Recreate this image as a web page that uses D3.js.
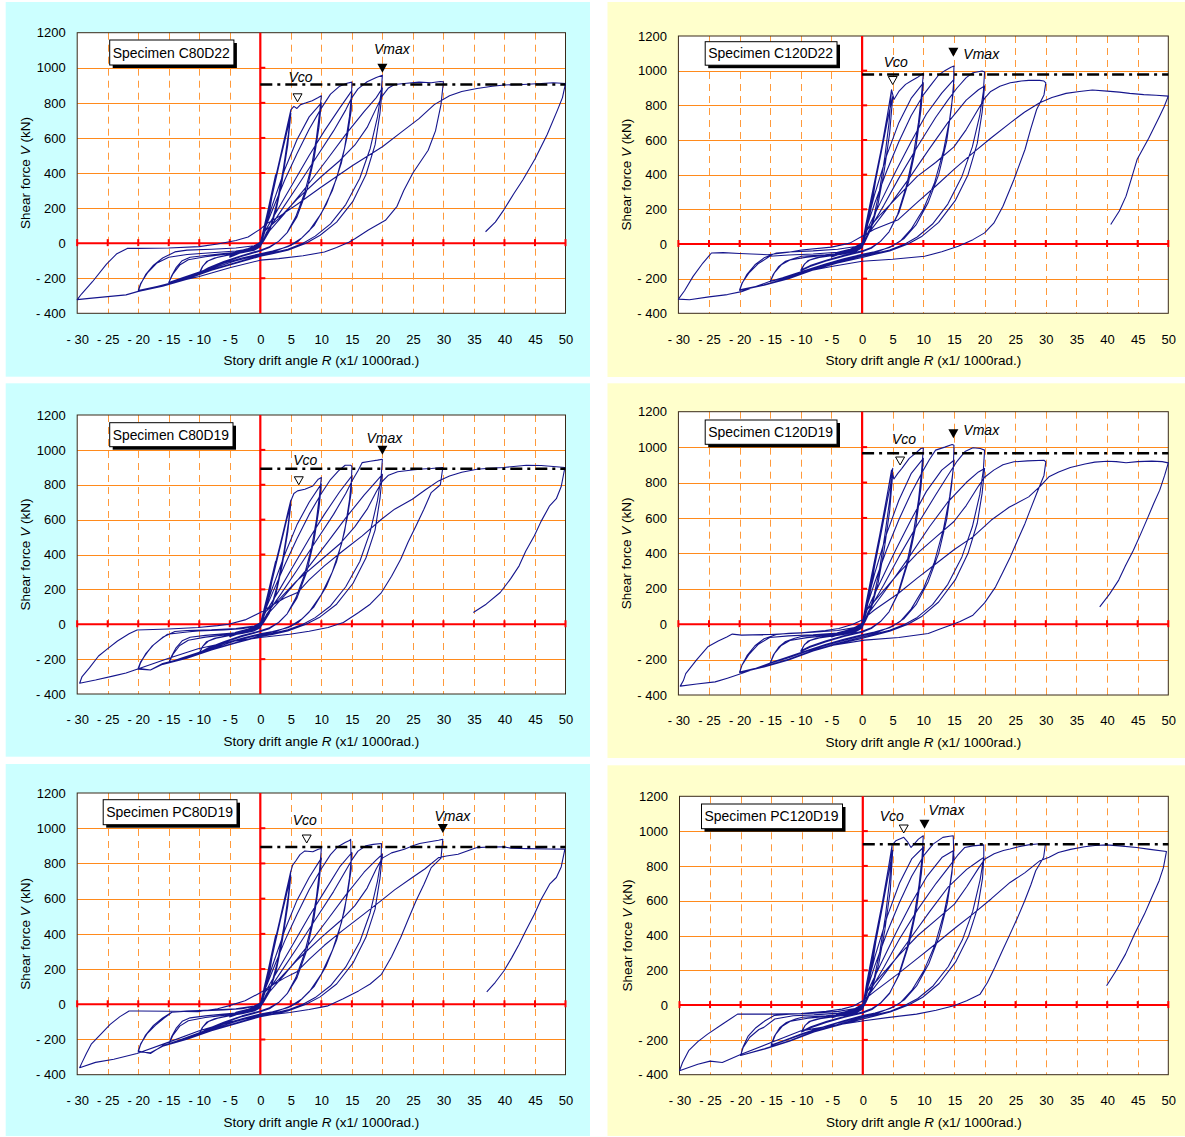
<!DOCTYPE html>
<html><head><meta charset="utf-8">
<script src="https://cdnjs.cloudflare.com/ajax/libs/d3/7.8.5/d3.min.js"></script>
<style>body{margin:0;background:#fff}svg{display:block}</style>
</head><body>
<svg id="c" width="1185" height="1137"></svg>
<script>
// ---------------- data ----------------
const xTicks = [-30,-25,-20,-15,-10,-5,0,5,10,15,20,25,30,35,40,45,50];
const yTicks = [-400,-200,0,200,400,600,800,1000,1200];
const specimens = ["C80D22","C120D22","C80D19","C120D19","PC80D19","PC120D19"];
const referenceShear = [905,978,892,965,893,924];          // dash-dot level (kN)
const vcoPoints  = [[6.1,806],[5.0,920],[6.3,800],[6.2,899],[7.6,916],[6.7,989]];
const vmaxPoints = [[20,971],[14.9,1080],[20,972],[14.9,1050],[29.9,973],[10.1,1014]];

const curveC80D22 = [
[0,0],[1.2,180],[2.5,390],[1.6,200],[0.6,50],[0,0],[-1.5,-25],[-2.5,-40],[-1.2,-20],[0,5],
[1,140],[2.2,320],[3.5,520],[4.5,680],[5,760],
[4.6,620],[3.8,430],[2.8,240],[1.8,110],[0.8,30],[0,-10],[-2,-35],[-4,-60],[-5,-75],
[-4,-50],[-2,-30],[0,-5],
[0.8,100],[2,280],[3.3,480],[4.4,640],[5,740],
[4.5,560],[3.6,360],[2.6,190],[1.5,70],[0.5,10],[0,-15],[-2.5,-45],[-5,-80],
[-4,-55],[-2,-35],[0,-10],
[0.6,90],[1.8,270],[3.2,480],[4.3,650],[5,760],[5.5,780],[6,768],[6.6,790],[7.5,800],[8.5,812],[9.5,830],[10,840],
[9.7,740],[9.2,600],[8.4,440],[7.2,280],[5.8,150],[4.4,60],[3,10],[1.5,-20],[0,-40],[-3,-70],[-6,-105],[-8.5,-140],[-10,-170],
[-9.5,-135],[-8.8,-105],[-7.5,-85],[-5.5,-70],[-3,-55],[-1,-40],[0,-20],
[0.6,70],[2,220],[4,420],[6,590],[8,720],[10,800],
[9.6,660],[8.8,480],[7.6,300],[6,150],[4.4,60],[3,10],[1.5,-25],[0,-45],[-3,-75],[-6,-110],[-8.5,-145],[-10,-175],
[-9.4,-130],[-8.5,-100],[-7,-80],[-5,-65],[-3,-55],[-1,-40],[0,-20],
[0.5,60],[2,190],[4,360],[6,510],[8,650],[10,770],[11.5,850],[13,895],[14.2,912],[15,918],
[14.9,760],[14.3,620],[13.3,460],[11.8,300],[10,170],[8,70],[6.2,10],[4.5,-20],[2,-45],[0,-60],[-3,-85],[-6,-115],[-10,-165],[-13,-200],[-15,-225],
[-14.5,-185],[-13.8,-140],[-12.8,-100],[-11.5,-80],[-9,-70],[-6,-60],[-3,-50],[-1,-35],[0,-15],
[0.8,70],[3,200],[5.5,350],[8,500],[10.5,640],[13,770],[15,870],
[14.6,720],[13.8,540],[12.5,370],[10.8,220],[8.8,100],[6.8,30],[5,-10],[2.5,-45],[0,-65],[-4,-100],[-8,-145],[-12,-195],[-15,-225],
[-14.3,-175],[-13.2,-125],[-11.8,-95],[-9,-78],[-5,-60],[-2,-45],[0,-20],
[1,60],[3.5,190],[6,320],[9,480],[12,640],[14,760],[15,830],[16,880],[17.5,920],[19,945],[20,958],
[19.8,860],[19.2,720],[18,540],[16.3,370],[14,220],[11.5,110],[9,40],[7,0],[4.5,-35],[2,-55],[0,-70],[-4,-110],[-8,-150],[-12,-200],[-16,-240],[-20,-270],
[-19.6,-230],[-18.5,-170],[-17,-115],[-15,-80],[-12,-65],[-8,-55],[-4,-45],[-1,-30],[0,-10],
[1,50],[4,170],[7.5,320],[11,480],[14,620],[17,750],[19,830],[20,885],
[19.6,740],[18.8,560],[17.3,390],[15.2,240],[12.5,120],[9.8,45],[7.5,0],[4.5,-40],[2,-60],[0,-75],[-4,-115],[-8,-155],[-12,-205],[-16,-245],[-20,-275],
[-19.6,-235],[-18.8,-180],[-17.5,-125],[-16,-85],[-14,-50],[-12,-40],[-8,-35],[-4,-28],[-1,-15],[0,5],
[0.8,70],[3,140],[6,250],[10,380],[13,470],[15.5,560],[17.5,660],[19,770],[20,840],[21,885],[22,905],[24,912],[26,918],[28,915],[29.5,922],[30,920],
[29.6,790],[28.7,640],[27.5,530],[25,400],[23.5,300],[22.4,210],[20.5,130],[17.7,75],[15.5,25],[14.5,5],[12.5,-25],[10.5,-50],[7,-72],[3,-88],[0,-97],[-5,-140],[-10,-190],[-15,-230],[-20,-275],[-22,-295],[-25,-305],[-28,-315],[-30,-322],
[-29.3,-290],[-27.5,-220],[-25.2,-120],[-23.5,-60],[-21.8,-30],[-20,-30],[-15,-28],[-10,-20],[-7,-5],[-4,15],[-2,35],[0,80],
[1,110],[3,150],[6,220],[10,320],[15,440],[20,550],[23,630],[26,710],[28.5,790],[31,840],[33,865],[35.5,882],[38,895],[40,902],[43,905],[46,910],[48,915],[50,910],
[49.5,830],[48.7,760],[47,620],[45,480],[43,360],[41.5,280],[39.9,190],[38.5,120],[36.9,65]
];

const curveC120D22 = [
[0,0],[1.2,200],[2.5,430],[1.6,230],[0.6,60],[0,0],[-1.5,-25],[-2.5,-40],[-1.2,-18],[0,5],
[1,170],[2.2,380],[3.4,600],[4.3,780],[4.8,890],
[4.4,700],[3.7,500],[2.8,300],[1.8,140],[0.8,40],[0,-10],[-2,-35],[-4,-55],[-5,-70],
[-4,-48],[-2,-30],[0,-5],
[0.8,120],[2,330],[3.3,560],[4.3,740],[5,850],
[4.5,640],[3.6,420],[2.6,230],[1.5,90],[0.5,15],[0,-15],[-2.5,-45],[-5,-75],
[-4,-52],[-2,-32],[0,-8],
[0.6,110],[1.8,320],[3.2,560],[4.2,760],[4.8,890],[5.2,834],[6,880],[7.1,921],[8,940],[9,960],[10,985],
[9.7,860],[9.2,700],[8.4,520],[7.2,330],[5.8,170],[4.4,70],[3,15],[1.5,-20],[0,-40],[-3,-65],[-6,-95],[-8.5,-125],[-10,-150],
[-9.5,-120],[-8.8,-95],[-7.5,-80],[-5.5,-68],[-3,-55],[-1,-40],[0,-20],
[0.6,90],[2,280],[4,510],[6,700],[8,840],[10,930],
[9.6,770],[8.8,560],[7.6,360],[6,180],[4.4,70],[3,15],[1.5,-25],[0,-45],[-3,-70],[-6,-100],[-8.5,-130],[-10,-155],
[-9.4,-115],[-8.5,-92],[-7,-78],[-5,-68],[-3,-58],[-1,-42],[0,-22],
[0.5,70],[2,230],[4,420],[6,590],[8,740],[10,860],[11.5,930],[12.5,975],[13.5,1000],[14.5,1020],[15,1027],
[14.9,880],[14.3,720],[13.3,540],[11.8,350],[10,200],[8,85],[6.2,15],[4.5,-20],[2,-45],[0,-60],[-3,-85],[-6,-115],[-10,-160],[-13,-195],[-15,-216],
[-14.5,-175],[-13.6,-129],[-12.5,-100],[-11,-82],[-9.9,-71],[-6,-62],[-3,-52],[-1,-35],[0,-15],
[0.8,80],[3,240],[5.5,420],[8,590],[10.5,750],[13,870],[15,950],
[14.6,790],[13.8,590],[12.5,400],[10.8,240],[8.8,110],[6.8,30],[5,-10],[2.5,-45],[0,-65],[-4,-100],[-8,-140],[-12,-190],[-15,-216],
[-14.3,-165],[-13.2,-120],[-11.8,-92],[-9,-76],[-5,-62],[-2,-46],[0,-20],
[1,70],[3.5,220],[6,380],[9,560],[12,730],[14,830],[15.5,900],[17,960],[18.1,988],[19.6,998],[20,992],
[19.8,880],[19.2,740],[18,560],[16.3,390],[14,230],[11.5,115],[9,40],[7,0],[4.5,-35],[2,-55],[0,-70],[-4,-105],[-8,-145],[-12,-195],[-16,-235],[-20,-264],
[-19.6,-225],[-18.5,-168],[-17,-115],[-15.1,-71],[-12,-64],[-8,-58],[-4,-48],[-1,-30],[0,-10],
[1,60],[4,200],[7.5,370],[11,550],[14,700],[17,830],[19,890],[20,911],
[19.6,760],[18.8,580],[17.3,400],[15.2,250],[12.5,125],[9.8,45],[7.5,0],[4.5,-40],[2,-60],[0,-78],[-4,-110],[-8,-150],[-12,-200],[-16,-238],[-20,-268],
[-19.6,-228],[-18.8,-175],[-17.5,-120],[-16,-80],[-14,-52],[-12,-46],[-8,-40],[-4,-30],[-1,-15],[0,5],
[0.8,80],[3,170],[6,280],[9,390],[12,470],[15,560],[17,660],[19,780],[20,840],[21,880],[22.5,910],[24.2,930],[26,940],[27.2,944],[29,944],[29.7,940],[30,930],
[29.7,860],[28.5,776],[27.5,660],[26.6,545],[24.8,372],[23,218],[21.5,120],[20,64],[18.1,25],[15.7,-13],[13,-45],[10.2,-71],[5,-88],[0,-100],[-5,-130],[-10,-165],[-15,-215],[-19.7,-275],[-22,-292],[-25,-305],[-28.2,-322],[-30,-318],
[-29,-270],[-27.6,-187],[-26,-110],[-24.6,-52],[-22.7,-50],[-20,-55],[-15.4,-62],[-12,-48],[-9.9,-35],[-5,-18],[-2,5],[0,44],
[2,85],[5.9,140],[9,240],[12,333],[15,430],[18.1,526],[21,610],[24.2,699],[26.5,760],[29,815],[31,845],[33.3,869],[35.5,880],[37.6,888],[40,882],[42,876],[43.7,869],[46,862],[48,858],[50,853],
[49.3,790],[48.6,738],[46.8,610],[44.9,487],[44,380],[43.1,276],[42,190],[40.6,112]
];

const curveC80D19 = [
[0,0],[1.2,170],[2.5,360],[1.6,190],[0.6,45],[0,0],[-1.5,-22],[-2.5,-38],[-1.2,-18],[0,5],
[1,130],[2.2,300],[3.5,490],[4.5,640],[5,712],
[4.6,580],[3.8,400],[2.8,225],[1.8,100],[0.8,25],[0,-10],[-2,-33],[-4,-55],[-5,-68],
[-4,-46],[-2,-28],[0,-5],
[0.8,95],[2,260],[3.3,450],[4.4,610],[5,690],
[4.5,530],[3.6,340],[2.6,180],[1.5,65],[0.5,8],[0,-15],[-2.5,-42],[-5,-72],
[-4,-50],[-2,-32],[0,-10],
[0.6,85],[1.8,255],[3.2,450],[4.3,610],[5,707],[5.5,750],[6.1,765],[7.3,774],[8.6,793],[9.5,832],[10,841],
[9.7,740],[9.2,600],[8.4,440],[7.2,280],[5.8,150],[4.4,60],[3,10],[1.5,-20],[0,-38],[-3,-65],[-6,-100],[-8.5,-135],[-10,-163],
[-9.5,-130],[-8.8,-100],[-7.5,-80],[-5.5,-66],[-3,-52],[-1,-38],[0,-20],
[0.6,65],[2,210],[4,400],[6,570],[8,700],[10,805],
[9.6,660],[8.8,480],[7.6,300],[6,150],[4.4,60],[3,10],[1.5,-25],[0,-42],[-3,-70],[-6,-105],[-8.5,-140],[-10,-168],
[-9.4,-125],[-8.5,-96],[-7,-78],[-5,-64],[-3,-53],[-1,-38],[0,-20],
[0.5,55],[2,180],[4,340],[6,490],[8,630],[10,750],[11.5,830],[12.8,880],[13.9,912],[14.8,912],[15,905],
[14.9,760],[14.3,620],[13.3,460],[11.8,300],[10,170],[8,70],[6.2,10],[4.5,-20],[2,-42],[0,-55],[-3,-80],[-6,-110],[-10,-160],[-13,-195],[-15,-220],
[-14.5,-180],[-13.8,-135],[-12.8,-95],[-11.5,-75],[-9,-64],[-6,-55],[-3,-46],[-1,-32],[0,-14],
[0.8,65],[3,190],[5.5,340],[8,490],[10.5,630],[13,760],[15,851],
[14.6,710],[13.8,530],[12.5,360],[10.8,215],[8.8,100],[6.8,30],[5,-10],[2.5,-42],[0,-60],[-4,-95],[-8,-140],[-12,-190],[-15,-222],
[-14.3,-172],[-13.2,-122],[-11.8,-92],[-9,-74],[-5,-58],[-2,-43],[0,-18],
[1,55],[3.5,180],[6,310],[9,470],[12,630],[14,750],[15,820],[16,880],[16.7,927],[18,935],[19.2,941],[20,946],
[19.8,850],[19.2,710],[18,530],[16.3,360],[14,215],[11.5,105],[9,38],[7,0],[4.5,-32],[2,-52],[0,-66],[-4,-105],[-8,-145],[-12,-190],[-16,-225],[-18,-262],[-20,-252],
[-19.6,-215],[-18.5,-160],[-17.7,-124],[-16.3,-85],[-15.2,-57],[-12,-44],[-10.2,-38],[-6,-32],[-3,-25],[-1,-12],[0,5],
[1,50],[4,165],[7.5,310],[11,470],[14,610],[17,740],[19,820],[20,860],
[19.6,720],[18.8,540],[17.3,380],[15.2,235],[12.5,115],[9.8,42],[7.5,0],[4.5,-38],[2,-58],[0,-70],[-4,-108],[-8,-148],[-12,-195],[-16,-230],[-18,-262],[-20,-258],
[-19.6,-220],[-18.8,-170],[-17.5,-118],[-16,-75],[-14,-42],[-12,-36],[-8,-32],[-4,-24],[-1,-10],[0,8],
[0.8,70],[3,140],[6,250],[10,370],[13,460],[15.5,560],[17.5,660],[19,760],[20,820],[21,855],[22.5,875],[24.9,885],[26.5,890],[28,893],[29.9,899],
[29.5,800],[28,755],[26.8,660],[25.5,564],[24.2,470],[23,373],[21.5,275],[19.85,182],[18,115],[16.1,67],[13.6,10],[11.1,-19],[8,-40],[4.8,-57],[0,-76],[-5,-100],[-10.2,-140],[-15,-195],[-20.2,-258],[-22,-280],[-24,-296],[-27,-320],[-29.6,-338],
[-29.2,-300],[-28,-250],[-26.5,-182],[-25,-140],[-23.4,-96],[-21.5,-55],[-20.2,-33],[-15,-27],[-10.2,-19],[-7,-8],[-5.2,0],[-2.5,25],[0,67],
[2,110],[4,150],[6.1,182],[8,255],[10.5,335],[13.5,420],[16.7,507],[19.85,602],[22,660],[24.9,717],[27,770],[29.2,822],[31,850],[33,872],[35.5,889],[37.5,895],[39.9,899],[41.5,905],[43.6,912],[46,910],[48,905],[49.9,899],
[49.3,790],[48.5,720],[47.4,679],[46,590],[44.9,507],[43.5,420],[42.4,335],[41,260],[39.3,182],[37,115],[34.9,67]
];

const curveC120D19 = [
[0,0],[1.2,200],[2.5,430],[1.6,230],[0.6,60],[0,0],[-1.5,-25],[-2.5,-40],[-1.2,-18],[0,5],
[1,170],[2.2,380],[3.4,600],[4.3,770],[5,880],
[4.5,700],[3.7,500],[2.8,300],[1.8,140],[0.8,40],[0,-10],[-2,-35],[-4,-55],[-5,-68],
[-4,-48],[-2,-30],[0,-5],
[0.8,120],[2,320],[3.3,550],[4.3,730],[5,850],
[4.5,640],[3.6,420],[2.6,230],[1.5,90],[0.5,15],[0,-15],[-2.5,-45],[-5,-72],
[-4,-52],[-2,-32],[0,-8],
[0.6,110],[1.8,320],[3.2,560],[4.2,750],[4.8,870],[5.2,820],[5.8,850],[6.5,880],[7.7,936],[8.7,965],[9.6,992],[10,995],
[9.7,860],[9.2,700],[8.4,520],[7.2,330],[5.8,170],[4.4,70],[3,15],[1.5,-20],[0,-40],[-3,-65],[-6,-95],[-8.5,-125],[-10,-150],
[-9.5,-120],[-8.8,-95],[-7.5,-80],[-5.5,-68],[-3,-55],[-1,-40],[0,-20],
[0.6,90],[2,280],[4,510],[6,700],[8,850],[10,936],
[9.6,770],[8.8,560],[7.6,360],[6,180],[4.4,70],[3,15],[1.5,-25],[0,-45],[-3,-70],[-6,-100],[-8.5,-130],[-10,-155],
[-9.4,-115],[-8.5,-92],[-7,-78],[-5,-68],[-3,-58],[-1,-42],[0,-22],
[0.5,70],[2,230],[4,420],[6,590],[8,740],[10,870],[11,930],[12,983],[13.5,1000],[14.7,1015],[15,1011],
[14.9,880],[14.3,720],[13.3,540],[11.8,350],[10,200],[8,85],[6.2,15],[4.5,-20],[2,-45],[0,-60],[-3,-85],[-6,-115],[-10,-160],[-13,-195],[-15,-218],
[-14.5,-175],[-13.6,-129],[-12.5,-98],[-11,-80],[-9.9,-70],[-6,-60],[-3,-50],[-1,-35],[0,-15],
[0.8,80],[3,240],[5.5,420],[8,590],[10.5,750],[13,870],[15,926],
[14.6,780],[13.8,590],[12.5,400],[10.8,240],[8.8,110],[6.8,30],[5,-10],[2.5,-45],[0,-65],[-4,-100],[-8,-140],[-12,-190],[-15,-220],
[-14.3,-165],[-13.2,-120],[-11.8,-92],[-9,-76],[-5,-62],[-2,-46],[0,-20],
[1,70],[3.5,220],[6,380],[9,560],[12,730],[14,840],[15.5,920],[16.8,975],[18.1,996],[19.3,992],[20,983],
[19.8,870],[19.2,730],[18,550],[16.3,380],[14,225],[11.5,110],[9,38],[7,0],[4.5,-35],[2,-55],[0,-72],[-4,-108],[-8,-148],[-12,-198],[-16,-238],[-20,-270],
[-19.6,-230],[-18.5,-172],[-17,-115],[-15.1,-75],[-12,-66],[-8,-60],[-4,-50],[-1,-32],[0,-10],
[1,60],[4,200],[7.5,370],[11,550],[14,690],[17,800],[19,860],[20,879],
[19.6,740],[18.8,570],[17.3,400],[15.2,250],[12.5,125],[9.8,45],[7.5,0],[4.5,-40],[2,-62],[0,-80],[-4,-112],[-8,-152],[-12,-202],[-16,-242],[-20,-274],
[-19.6,-230],[-18.8,-178],[-17.5,-122],[-16,-82],[-14,-58],[-12,-52],[-8,-46],[-4,-36],[-1,-18],[0,5],
[0.8,80],[3,170],[6,290],[9,400],[12,490],[15,580],[17,670],[19,780],[20,830],[21.5,870],[23,900],[24.8,917],[27,922],[29.7,926],[30,917],
[29.7,840],[28.5,738],[27.5,650],[26.6,569],[25.4,475],[24.2,380],[23,295],[21.8,211],[20,120],[18.1,51],[16,15],[14.4,-6],[12.5,-30],[10.8,-53],[6,-75],[0.4,-90],[-5,-120],[-10,-160],[-15,-220],[-19.7,-279],[-22,-305],[-24,-326],[-27,-338],[-29.7,-350],
[-29.2,-320],[-28.8,-279],[-27,-200],[-25.2,-128],[-23.5,-95],[-22.1,-72],[-21.2,-56],[-19.7,-62],[-15,-58],[-9.9,-49],[-6,-36],[-3.8,-24],[-1.5,0],[0,23],
[2,80],[5.9,173],[9,260],[12,340],[15,420],[18.1,493],[21.1,588],[24,660],[27.2,719],[29.1,780],[30.5,832],[32.1,860],[34,885],[36.4,905],[38,915],[40,920],[41.5,918],[43.1,912],[45,918],[47.3,921],[49,918],[50,911],
[49.4,840],[48.6,757],[47.6,680],[46.7,606],[45.5,510],[44.3,418],[43,330],[41.9,249],[40.4,170],[38.8,98]
];

const curvePC80D19 = [
[0,0],[1.2,180],[2.5,390],[1.6,200],[0.6,50],[0,0],[-1.5,-22],[-2.5,-38],[-1.2,-18],[0,5],
[1,140],[2.2,320],[3.5,520],[4.5,680],[5,758],
[4.6,620],[3.8,430],[2.8,240],[1.8,110],[0.8,30],[0,-10],[-2,-33],[-4,-55],[-5,-68],
[-4,-46],[-2,-28],[0,-5],
[0.8,100],[2,280],[3.3,480],[4.4,640],[5,730],
[4.5,560],[3.6,360],[2.6,190],[1.5,70],[0.5,10],[0,-15],[-2.5,-42],[-5,-72],
[-4,-50],[-2,-32],[0,-10],
[0.6,90],[1.8,270],[3.2,480],[4.3,650],[5,755],[5.3,790],[5.8,814],[6.5,850],[7.3,871],[8.6,866],[9.5,881],[10,885],
[9.7,760],[9.2,610],[8.4,450],[7.2,285],[5.8,150],[4.4,60],[3,10],[1.5,-20],[0,-38],[-3,-66],[-6,-102],[-8.5,-138],[-10,-165],
[-9.5,-132],[-8.8,-102],[-7.5,-82],[-5.5,-67],[-3,-53],[-1,-38],[0,-20],
[0.6,70],[2,220],[4,420],[6,590],[8,720],[10,830],
[9.6,680],[8.8,490],[7.6,305],[6,150],[4.4,60],[3,10],[1.5,-25],[0,-42],[-3,-70],[-6,-106],[-8.5,-142],[-10,-170],
[-9.4,-128],[-8.5,-98],[-7,-79],[-5,-65],[-3,-54],[-1,-38],[0,-20],
[0.5,60],[2,190],[4,360],[6,510],[8,650],[10,770],[11.5,850],[12.7,895],[13.9,919],[14.6,930],[14.8,937],
[14.9,770],[14.3,630],[13.3,465],[11.8,305],[10,172],[8,70],[6.2,10],[4.5,-20],[2,-42],[0,-55],[-3,-82],[-6,-112],[-10,-162],[-13,-200],[-15,-225],
[-14.5,-182],[-13.8,-137],[-12.8,-97],[-11.5,-77],[-9,-66],[-6,-56],[-3,-47],[-1,-33],[0,-14],
[0.8,70],[3,200],[5.5,350],[8,500],[10.5,640],[13,780],[15,862],
[14.6,715],[13.8,535],[12.5,365],[10.8,218],[8.8,100],[6.8,30],[5,-10],[2.5,-42],[0,-60],[-4,-97],[-8,-142],[-12,-192],[-15,-228],
[-14.3,-175],[-13.2,-124],[-11.8,-94],[-9,-75],[-5,-59],[-2,-44],[0,-18],
[1,60],[3.5,190],[6,320],[9,480],[12,640],[14,760],[15,820],[16,870],[17.3,900],[18.5,908],[19.85,913],
[19.8,830],[19.2,700],[18,520],[16.3,355],[14,212],[11.5,105],[9,38],[7,0],[4.5,-32],[2,-52],[0,-66],[-4,-106],[-8,-146],[-12,-195],[-16,-235],[-18,-280],[-20,-265],
[-19.6,-225],[-18.5,-165],[-17.2,-120],[-15.8,-80],[-14.5,-45],[-12,-40],[-10,-38],[-6,-32],[-3,-25],[-1,-12],[0,5],
[1,50],[4,170],[7.5,320],[11,480],[14,620],[17,750],[19,820],[20,852],
[19.6,715],[18.8,540],[17.3,380],[15.2,235],[12.5,115],[9.8,42],[7.5,0],[4.5,-38],[2,-58],[0,-70],[-4,-110],[-8,-150],[-12,-198],[-16,-238],[-18,-275],[-20,-270],
[-19.6,-228],[-18.8,-175],[-17.5,-120],[-16,-78],[-14.5,-45],[-12,-38],[-8,-33],[-4,-25],[-1,-10],[0,8],
[0.8,70],[3,140],[6,250],[10,380],[13,470],[15.5,560],[17.5,660],[19,770],[20,830],[21.5,860],[23.6,881],[25,900],[26.1,913],[27.5,922],[29.2,932],[29.9,937],
[29.6,830],[28,776],[26.8,680],[25.5,587],[24.2,480],[23,379],[21.5,270],[19.85,170],[18,115],[16.1,76],[13.5,30],[11.1,-9],[8,-30],[4.8,-47],[0,-66],[-5,-100],[-10,-150],[-15,-215],[-20.2,-280],[-24,-312],[-27,-330],[-29.6,-360],
[-29.2,-330],[-28.5,-280],[-27.7,-227],[-26,-165],[-24.6,-114],[-23,-70],[-21.5,-38],[-19.9,-38],[-15,-40],[-10.2,-42],[-7,-25],[-5.2,-9],[-2.5,20],[0,66],
[2,110],[4,150],[6,185],[8,255],[10.5,335],[13.5,420],[16.7,505],[19.85,590],[22,650],[24.9,720],[27,770],[29.2,833],[30.5,842],[32.4,852],[34,872],[35.5,890],[37.5,893],[39.9,894],[41.1,886],[44,884],[47,882],[49.9,881],
[49.3,780],[48.5,720],[47.4,682],[46,595],[44.9,511],[43.6,425],[42.4,341],[41.2,265],[39.9,189],[38.5,125],[37.1,70]
];

const curvePC120D19 = [
[0,0],[1.2,210],[2.5,450],[1.6,240],[0.6,60],[0,0],[-1.5,-25],[-2.5,-40],[-1.2,-18],[0,5],
[1,180],[2.2,400],[3.4,630],[4.3,810],[4.8,910],
[4.4,720],[3.7,510],[2.8,310],[1.8,145],[0.8,40],[0,-10],[-2,-35],[-4,-55],[-5,-68],
[-4,-48],[-2,-30],[0,-5],
[0.8,130],[2,340],[3.3,580],[4.3,770],[4.9,890],
[4.5,660],[3.6,430],[2.6,235],[1.5,92],[0.5,15],[0,-15],[-2.5,-45],[-5,-72],
[-4,-52],[-2,-32],[0,-8],
[0.6,120],[1.8,340],[3.2,590],[4.2,790],[4.8,921],[5.4,944],[6.7,964],[7.3,940],[7.9,906],[8.5,930],[9.1,954],[9.9,973],
[9.7,850],[9.2,690],[8.4,510],[7.2,325],[5.8,168],[4.4,68],[3,14],[1.5,-20],[0,-40],[-3,-65],[-6,-95],[-8.5,-125],[-10,-150],
[-9.5,-120],[-8.8,-95],[-7.5,-80],[-5.5,-68],[-3,-55],[-1,-40],[0,-20],
[0.6,90],[2,280],[4,510],[6,700],[8,840],[10,910],
[9.6,760],[8.8,555],[7.6,355],[6,178],[4.4,70],[3,15],[1.5,-25],[0,-45],[-3,-70],[-6,-100],[-8.5,-130],[-10,-155],
[-9.4,-115],[-8.5,-92],[-7,-78],[-5,-68],[-3,-58],[-1,-42],[0,-22],
[0.5,70],[2,230],[4,420],[6,590],[8,740],[10,860],[11.5,925],[13.1,964],[14.2,970],[14.8,973],
[14.9,850],[14.3,700],[13.3,530],[11.8,345],[10,198],[8,84],[6.2,15],[4.5,-20],[2,-45],[0,-60],[-3,-88],[-6,-120],[-10,-165],[-13,-205],[-15,-230],
[-14.5,-180],[-13.6,-130],[-12.5,-100],[-11,-80],[-9.9,-70],[-6,-62],[-3,-52],[-1,-35],[0,-15],
[0.8,80],[3,240],[5.5,420],[8,590],[10.5,740],[13,850],[14.8,887],
[14.6,760],[13.8,580],[12.5,395],[10.8,238],[8.8,110],[6.8,30],[5,-10],[2.5,-45],[0,-65],[-4,-102],[-8,-145],[-12,-195],[-15,-232],
[-14.3,-170],[-13.2,-122],[-11.8,-92],[-9,-76],[-5,-62],[-2,-46],[0,-20],
[1,70],[3.5,220],[6,380],[9,550],[12,700],[14,790],[15.5,860],[16.7,906],[18,915],[19.8,921],
[19.8,850],[19.2,720],[18,540],[16.3,375],[14,222],[11.5,110],[9,38],[7,0],[4.5,-35],[2,-55],[0,-72],[-4,-110],[-8,-150],[-12,-205],[-16,-250],[-20,-290],
[-19.6,-245],[-18.5,-185],[-17,-140],[-16.2,-128],[-14.4,-80],[-11.4,-61],[-8,-56],[-4,-46],[-1,-30],[0,-10],
[1,60],[4,200],[7.5,370],[11,540],[14,680],[17,780],[19,830],[19.8,849],
[19.6,730],[18.8,560],[17.3,395],[15.2,248],[12.5,124],[9.8,45],[7.5,0],[4.5,-40],[2,-62],[0,-80],[-4,-115],[-8,-155],[-12,-208],[-16,-252],[-20,-290],
[-19.6,-240],[-18.8,-180],[-17.5,-130],[-16,-90],[-14.5,-60],[-12,-52],[-8,-46],[-4,-36],[-1,-18],[0,5],
[0.8,80],[3,170],[6,290],[9,400],[12,490],[15,580],[17,680],[19,790],[20,840],[21.5,870],[23,888],[24.1,897],[25.5,910],[27.1,921],[28.5,926],[29.9,929],
[29.6,850],[28.3,772],[27.5,690],[26.5,600],[25.3,500],[24.1,408],[22.8,310],[21.6,216],[20.4,130],[19.2,63],[17,25],[14.9,-4],[12,-30],[8.8,-52],[4,-72],[0.2,-90],[-5,-118],[-10.1,-148],[-15,-215],[-19.9,-282],[-23,-330],[-25,-322],[-27,-340],[-30,-377],
[-29.5,-330],[-28.5,-262],[-27,-210],[-25.4,-167],[-23,-110],[-20.5,-52],[-19.9,-52],[-15,-52],[-10.1,-48],[-6,-35],[-3.4,-23],[-1.5,-5],[0,25],
[2,80],[5.7,178],[9,270],[11.9,351],[15,440],[18,523],[21,610],[24.1,705],[26.5,760],[29,830],[30.5,850],[32,877],[34,895],[36.3,910],[38,917],[39.9,921],[42,915],[44.8,906],[47,895],[49.7,883],
[49.2,790],[48.5,715],[47.3,620],[46.1,523],[44.5,410],[43,293],[41.5,200],[39.9,111]
];

const curves = [curveC80D22, curveC120D22, curveC80D19, curveC120D19, curvePC80D19, curvePC120D19];

// ---------------- layout (pixels) ----------------
const layouts = [
 {bg:[5.7,2,584.3,374.7], fill:"#CCFFFF", plot:[77.2,32.7,565.5,313.3], box:[109.7,40,124.2,25], vco:[3,-20,"middle"], vmax:[9.5,-19,"middle"]},
 {bg:[607.5,2,577.5,375], fill:"#FFFFCC", plot:[678.4,36,1168.3,313.3], box:[705.2,41.7,131.8,23.5], vco:[3,-18,"middle"], vmax:[10,2,"start"]},
 {bg:[5.7,383.3,584.3,373.4], fill:"#CCFFFF", plot:[77.2,415,565.5,694], box:[109.7,422.7,123.3,24], vco:[6.5,-20,"middle"], vmax:[2,-12,"middle"]},
 {bg:[607.5,383.3,577.5,374.7], fill:"#FFFFCC", plot:[678.4,411.7,1168.3,695], box:[705.2,420,131.8,24.3], vco:[4,-21,"middle"], vmax:[10,-3,"start"]},
 {bg:[5.7,764,584.3,372], fill:"#CCFFFF", plot:[77.2,793,565.5,1074.7], box:[103.2,799.7,133.8,25], vco:[-2,-18,"middle"], vmax:[9.5,-12,"middle"]},
 {bg:[607.5,765.3,577.5,370.7], fill:"#FFFFCC", plot:[679.5,796.3,1168.3,1074.7], box:[701.5,804,141,24.7], vco:[-12,-12,"middle"], vmax:[22,-14,"middle"]}
];

const FONT = "'Liberation Sans', Arial, Helvetica, sans-serif";
const svg = d3.select("#c");
const fmt = d => d < 0 ? "- " + Math.abs(d) : String(d);

specimens.forEach((name, i) => {
  const L = layouts[i];
  const g = svg.append("g");
  g.append("rect").attr("x",L.bg[0]).attr("y",L.bg[1]).attr("width",L.bg[2]).attr("height",L.bg[3]).attr("fill",L.fill);

  const x = d3.scaleLinear().domain([-30,50]).range([L.plot[0], L.plot[2]]);
  const y = d3.scaleLinear().domain([-400,1200]).range([L.plot[3], L.plot[1]]);

  g.append("rect").attr("x",x(-30)).attr("y",y(1200)).attr("width",x(50)-x(-30)).attr("height",y(-400)-y(1200)).attr("fill","#fff");

  // horizontal solid grid
  g.selectAll(null).data(yTicks.filter(v => v !== 0 && v > -400 && v < 1200)).enter().append("line")
    .attr("x1",x(-30)).attr("x2",x(50)).attr("y1",d=>Math.round(y(d))+0.5).attr("y2",d=>Math.round(y(d))+0.5)
    .attr("stroke","#FF8A1C").attr("stroke-width",1);
  // vertical dashed grid
  g.selectAll(null).data(xTicks.filter(v => v !== 0 && v > -30 && v < 50)).enter().append("line")
    .attr("x1",d=>Math.round(x(d))+0.5).attr("x2",d=>Math.round(x(d))+0.5).attr("y1",y(1200)).attr("y2",y(-400))
    .attr("stroke","#FF9A3C").attr("stroke-width",1).attr("stroke-dasharray","7,5");

  // border
  g.append("rect").attr("x",x(-30)).attr("y",y(1200)).attr("width",x(50)-x(-30)).attr("height",y(-400)-y(1200))
    .attr("fill","none").attr("stroke","#3a2a1a").attr("stroke-width",1);

  // red axes
  g.append("line").attr("x1",x(-30)).attr("x2",x(50)).attr("y1",y(0)).attr("y2",y(0)).attr("stroke","#FF0000").attr("stroke-width",2);
  g.append("line").attr("x1",x(0)).attr("x2",x(0)).attr("y1",y(1200)).attr("y2",y(-400)).attr("stroke","#FF0000").attr("stroke-width",2.2);
  g.selectAll(null).data(xTicks.filter(v => v !== 0)).enter().append("line")
    .attr("x1",d=>x(d)).attr("x2",d=>x(d)).attr("y1",y(0)-4).attr("y2",y(0)+3).attr("stroke","#FF0000").attr("stroke-width",2);
  g.selectAll(null).data(yTicks.filter(v => v !== 0 && v > -400 && v < 1200)).enter().append("line")
    .attr("x1",x(0)).attr("x2",x(0)+5).attr("y1",d=>y(d)).attr("y2",d=>y(d)).attr("stroke","#FF0000").attr("stroke-width",2);

  // hysteresis curve
  const line = d3.line().x(d => x(d[0])).y(d => y(d[1]));
  g.append("path").datum(curves[i]).attr("d",line).attr("fill","none")
    .attr("stroke","#15158C").attr("stroke-width",1.1).attr("stroke-linejoin","round");

  // reference dash-dot line
  g.append("line").attr("x1",x(0)).attr("x2",x(50)).attr("y1",y(referenceShear[i])).attr("y2",y(referenceShear[i]))
    .attr("stroke","#000").attr("stroke-width",2.5).attr("stroke-dasharray","12,5,3,5");

  // markers
  const vc = vcoPoints[i], vm = vmaxPoints[i];
  const tri = (cx, ty, w, h) => `M${cx-w/2},${ty-h}L${cx+w/2},${ty-h}L${cx},${ty}Z`;
  g.append("path").attr("d",tri(x(vc[0]),y(vc[1]),9,8)).attr("fill","#fff").attr("stroke","#000").attr("stroke-width",1);
  g.append("path").attr("d",tri(x(vm[0]),y(vm[1]),10,9)).attr("fill","#000");
  g.append("text").attr("x",x(vc[0])+L.vco[0]).attr("y",y(vc[1])+L.vco[1]).attr("text-anchor",L.vco[2])
    .attr("font-family",FONT).attr("font-size",14).attr("font-style","italic").text("Vco");
  g.append("text").attr("x",x(vm[0])+L.vmax[0]).attr("y",y(vm[1])+L.vmax[1]).attr("text-anchor",L.vmax[2])
    .attr("font-family",FONT).attr("font-size",14).attr("font-style","italic").text("Vmax");

  // specimen box
  const b = L.box;
  g.append("rect").attr("x",b[0]+3).attr("y",b[1]+3).attr("width",b[2]).attr("height",b[3]).attr("fill","#000");
  g.append("rect").attr("x",b[0]).attr("y",b[1]).attr("width",b[2]).attr("height",b[3]).attr("fill","#fff").attr("stroke","#000").attr("stroke-width",1);
  g.append("text").attr("x",b[0]+3).attr("y",b[1]+b[3]/2+5).attr("font-family",FONT).attr("font-size",14)
    .attr("textLength", b[2]-7).attr("lengthAdjust","spacingAndGlyphs").text("Specimen " + name);

  // axes (labels only)
  const ax = g.append("g").attr("transform",`translate(0,${y(-400)})`)
    .call(d3.axisBottom(x).tickValues(xTicks).tickSize(0).tickPadding(21).tickFormat(fmt));
  ax.select(".domain").remove();
  ax.attr("font-family",FONT).attr("font-size",13).attr("color","#000");
  const ay = g.append("g").attr("transform",`translate(${x(-30)},0)`)
    .call(d3.axisLeft(y).tickValues(yTicks).tickSize(0).tickPadding(11.5).tickFormat(fmt));
  ay.select(".domain").remove();
  ay.attr("font-family",FONT).attr("font-size",13).attr("color","#000");

  // axis titles
  const xt = g.append("text").attr("x",(x(-30)+x(50))/2).attr("y",y(-400)+52).attr("text-anchor","middle")
    .attr("font-family",FONT).attr("font-size",13.5);
  xt.append("tspan").text("Story drift angle ");
  xt.append("tspan").attr("font-style","italic").text("R");
  xt.append("tspan").text(" (x1/ 1000rad.)");
  const cy = (y(1200)+y(-400))/2, cx = x(-30)-52.5;
  const yt = g.append("text").attr("transform",`translate(${cx+5},${cy}) rotate(-90)`).attr("text-anchor","middle")
    .attr("font-family",FONT).attr("font-size",13.5);
  yt.append("tspan").text("Shear force  ");
  yt.append("tspan").attr("font-style","italic").text("V");
  yt.append("tspan").text(" (kN)");
});
</script>
</body></html>
